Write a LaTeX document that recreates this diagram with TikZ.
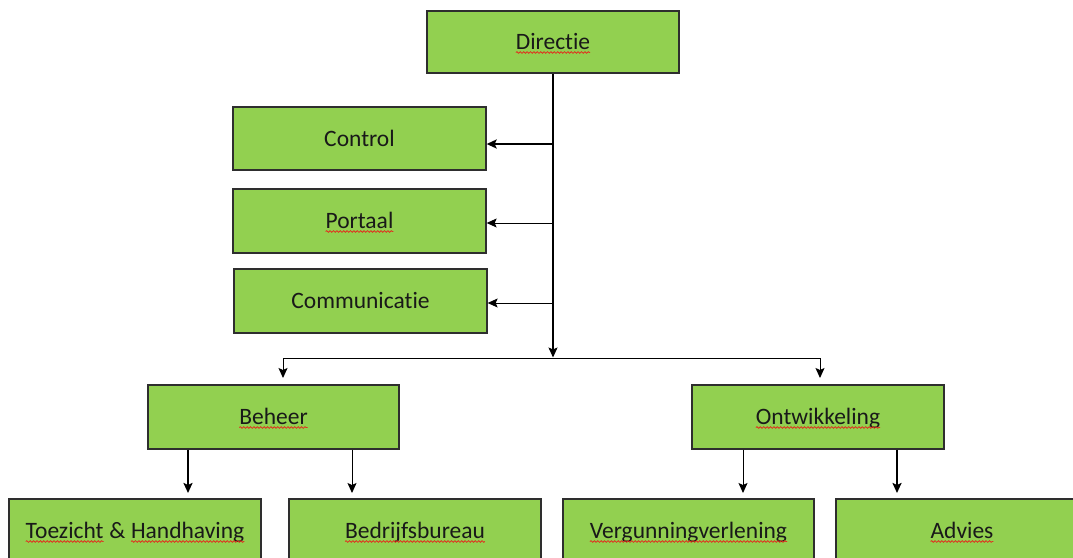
\documentclass[tikz,border=0pt]{standalone}
\usepackage{fontspec}
\setmainfont{Carlito}[Ligatures={NoCommon}]
\usetikzlibrary{arrows.meta,decorations.pathmorphing}
\definecolor{boxgreen}{HTML}{92D050}
\definecolor{boxline}{HTML}{2E2E2E}
\definecolor{squig}{HTML}{E0301E}
\tikzset{
  box/.style={draw=boxline, line width=1.3pt, fill=boxgreen, rectangle, inner sep=0pt,
    font=\fontsize{23.5}{28}\selectfont, text=black!90, text height=15pt, text depth=0pt},
  wavy/.style={draw=squig, line width=0.8pt, decorate,
    decoration={snake, amplitude=0.8pt, segment length=3.4pt}},
  thinarr/.style={draw=black, line width=1pt, -{Stealth[length=10pt,width=9pt,inset=2pt]}},
  thickarr/.style={draw=black, line width=2.2pt, -{Stealth[length=10pt,width=9pt,inset=2pt]}},
}
\newcommand\wv[1]{\tikz[baseline=(w.base)]{\node[inner sep=0pt,outer sep=0pt,draw=none,fill=none,minimum width=0pt,minimum height=0pt,text height=,text depth=,anchor=base](w) at (0,0){#1};\draw[wavy] ([yshift=-3pt]w.base west) -- ([yshift=-3pt]w.base east);}}
\begin{document}
\begin{tikzpicture}[x=1pt,y=-1pt]
\clip (0,0) rectangle (1073,557);
\fill[white] (0,0) rectangle (1073,557);
% boxes
\node[box, minimum width=252pt, minimum height=62pt] (dir) at (553,42) {\wv{Directie}};
\node[box, minimum width=253pt, minimum height=63pt] (ctrl) at (359.5,138.5) {Control};
\node[box, minimum width=253pt, minimum height=64pt] (port) at (359.5,221) {\wv{Portaal}};
\node[box, minimum width=253pt, minimum height=64pt] (comm) at (360.5,301) {Communicatie};
\node[box, minimum width=251pt, minimum height=64pt] (beh) at (273.5,417) {\wv{Beheer}};
\node[box, minimum width=252pt, minimum height=64pt] (ont) at (818,417) {\wv{Ontwikkeling}};
\node[box, minimum width=252pt, minimum height=64pt] (toe) at (135,531) {\wv{Toezicht} \& \wv{Handhaving}};
\node[box, minimum width=252pt, minimum height=64pt] (bed) at (415,531) {\wv{Bedrijfsbureau}};
\node[box, minimum width=251pt, minimum height=64pt] (verg) at (688.5,531) {\wv{Vergunningverlening}};
\node[box, minimum width=252pt, minimum height=64pt] (adv) at (962,531) {\wv{Advies}};
% coordinates
\coordinate (c1) at (553,144);
\coordinate (c2) at (553,223);
\coordinate (c3) at (553,303);
\coordinate (j) at (553,357.5);
\coordinate (jh) at (553,358);
\coordinate (bt) at (283,378);
\coordinate (ot) at (820,378);
\coordinate (a1) at (188,493);
\coordinate (a2) at (352,493);
\coordinate (a3) at (743,493);
\coordinate (a4) at (897,493);
% connectors
\draw[thinarr, line width=1.3pt] (dir.south) -- (j);
\draw[thickarr] (c1) -- (c1 -| ctrl.east);
\draw[thinarr] (c2) -- (c2 -| port.east);
\draw[thinarr] (c3) -- (c3 -| comm.east);
\draw[thinarr] (jh) -| (bt);
\draw[thinarr] (jh) -| (ot);
\draw[thickarr] (a1 |- beh.south) -- (a1);
\draw[thinarr] (a2 |- beh.south) -- (a2);
\draw[thinarr] (a3 |- ont.south) -- (a3);
\draw[thickarr] (a4 |- ont.south) -- (a4);
\end{tikzpicture}
\end{document}
